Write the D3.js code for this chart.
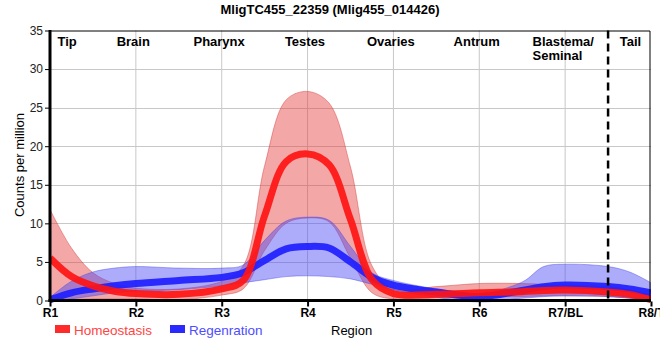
<!DOCTYPE html>
<html>
<head>
    <style>
        body { margin: 0; background: #fff; }
        svg { font-family: "Liberation Sans", Arial, sans-serif; }
    </style>
    <script src="https://d3js.org/d3.v7.min.js"></script>
</head>
<body>
    <div id="chart"></div>
    <script>
        const width = 660, height = 360;

        // positions along the body axis (1 = R1 ... 8 = R8/T)
        const pos = [1, 1.25, 1.5, 1.75, 2, 2.5, 3, 3.25, 3.5, 3.75, 4, 4.25, 4.5, 4.75, 5, 5.5, 6, 6.5, 6.75, 7, 7.5, 7.75, 8];

        const homMean = [5.5, 3.1, 1.9, 1.2, 0.9, 0.8, 1.5, 2.6, 11, 18, 19, 17.6, 10.5, 2.7, 0.9, 0.8, 1.0, 1.15, 1.3, 1.35, 1.1, 0.8, 0.1];
        const homHi   = [11.8, 6.8, 3.6, 2.2, 1.6, 1.5, 2.5, 4.5, 17.5, 26, 27.1, 25.6, 17.3, 4.5, 1.5, 1.8, 2.2, 2.2, 2.1, 2.0, 1.8, 1.4, 0.7];
        const homLo   = [0, 0.1, 0.2, 0.2, 0.2, 0.1, 0.7, 1.5, 6.5, 10, 10.7, 10.2, 5.5, 1.0, 0.2, 0.3, 0.5, 0.5, 0.6, 0.6, 0.5, 0.3, 0];

        const regMean = [0.1, 1.0, 1.5, 1.9, 2.2, 2.6, 3.0, 3.6, 5.2, 6.7, 7.0, 6.8, 5.0, 3.0, 2.0, 1.1, 0.5, 1.3, 1.8, 2.0, 1.8, 1.5, 1.0];
        const regHi   = [0.4, 2.5, 3.7, 4.2, 4.4, 4.2, 4.2, 4.6, 7.8, 10.3, 10.8, 10.4, 7.0, 3.6, 2.6, 1.5, 0.9, 2.4, 4.4, 4.7, 4.4, 3.7, 2.3];
        const regLo   = [-0.2, 0.2, 0.6, 1.0, 1.2, 1.4, 1.9, 2.3, 2.7, 3.1, 3.2, 3.1, 2.8, 2.1, 1.4, 0.4, -0.2, 0.3, 0.5, 0.6, 0.5, 0.3, 0];

        const tickLabels = ["R1", "R2", "R3", "R4", "R5", "R6", "R7/BL", "R8/T"];
        const yTicks = [0, 5, 10, 15, 20, 25, 30, 35];
        const regionNames = ["Tip", "Brain", "Pharynx", "Testes", "Ovaries", "Antrum", "Blastema/|Seminal", "Tail"];
        const regionPos = [1.2, 1.97, 2.97, 3.97, 4.97, 5.97, 6.62, 7.76];

        const x = d3.scaleLinear().domain([1, 8]).range([50, 651]);
        const y = d3.scaleLinear().domain([0, 35]).range([300.5, 30.5]);

        const svg = d3.select("#chart").append("svg")
            .attr("width", width)
            .attr("height", height);

        svg.append("clipPath").attr("id", "clip")
            .append("rect").attr("x", 50).attr("y", 30).attr("width", 601).attr("height", 274);

        // grid
        svg.append("g").selectAll("line")
            .data(d3.range(2, 8))
            .enter().append("line")
            .attr("x1", d => x(d)).attr("x2", d => x(d))
            .attr("y1", y(35)).attr("y2", y(0))
            .attr("stroke", "#c8c8c8").attr("stroke-width", 1);
        svg.append("g").selectAll("line")
            .data(yTicks.slice(1, -1))
            .enter().append("line")
            .attr("x1", x(1)).attr("x2", x(8))
            .attr("y1", d => Math.round(y(d)) + 0.5).attr("y2", d => Math.round(y(d)) + 0.5)
            .attr("stroke", "#c8c8c8").attr("stroke-width", 1);

        const idx = d3.range(pos.length);
        const curve = d3.curveCatmullRom.alpha(0.5);
        const band = (hi, lo) => d3.area().curve(curve)
            .x(i => x(pos[i])).y0(i => y(lo[i])).y1(i => y(hi[i]))(idx);
        const line = vals => d3.line().curve(curve)
            .x(i => x(pos[i])).y(i => y(vals[i]))(idx);

        const plot = svg.append("g").attr("clip-path", "url(#clip)");

        plot.append("path").attr("d", band(homHi, homLo))
            .attr("fill", "rgba(228,60,60,0.45)")
            .attr("stroke", "rgba(210,40,40,0.4)").attr("stroke-width", 1);
        plot.append("path").attr("d", band(regHi, regLo))
            .attr("fill", "rgba(70,70,245,0.45)")
            .attr("stroke", "rgba(60,60,230,0.4)").attr("stroke-width", 1);
        plot.append("path").attr("d", line(regMean))
            .attr("fill", "none").attr("stroke", "rgba(30,30,255,0.92)").attr("stroke-width", 7);
        plot.append("path").attr("d", line(homMean))
            .attr("fill", "none").attr("stroke", "rgba(255,20,20,0.92)").attr("stroke-width", 7);

        // dashed tail boundary
        svg.append("line")
            .attr("x1", x(7.5)).attr("x2", x(7.5))
            .attr("y1", y(35)).attr("y2", y(0))
            .attr("stroke", "#000").attr("stroke-width", 2.5)
            .attr("stroke-dasharray", "8,5");

        // frame
        svg.append("line").attr("x1", x(1)).attr("x2", x(8) - 1)
            .attr("y1", 31).attr("y2", 31).attr("stroke", "#000").attr("stroke-width", 1);
        svg.append("line").attr("x1", x(8) - 1).attr("x2", x(8) - 1)
            .attr("y1", 31).attr("y2", y(0)).attr("stroke", "#000").attr("stroke-width", 1);
        svg.append("line").attr("x1", x(1)).attr("x2", x(1))
            .attr("y1", 30).attr("y2", y(0) + 1.5).attr("stroke", "#000").attr("stroke-width", 3);
        svg.append("line").attr("x1", x(1) - 1.5).attr("x2", x(8))
            .attr("y1", y(0)).attr("y2", y(0)).attr("stroke", "#000").attr("stroke-width", 3);

        // y axis
        const yAxis = svg.append("g")
            .attr("transform", `translate(${x(1) - 1},0)`)
            .call(d3.axisLeft(y).tickValues(yTicks).tickSize(4).tickPadding(2));
        yAxis.select(".domain").remove();
        yAxis.selectAll("text").attr("font-size", 12).attr("fill", "#222")
            .attr("font-family", "Liberation Sans, Arial, sans-serif");

        // x axis
        const xAxis = svg.append("g")
            .attr("transform", `translate(0,${y(0) + 1})`)
            .call(d3.axisBottom(x).tickValues(d3.range(1, 9)).tickSize(5).tickPadding(2)
                .tickFormat((d, i) => tickLabels[i]));
        xAxis.select(".domain").remove();
        xAxis.selectAll("line").attr("stroke-width", 2);
        xAxis.selectAll("text").attr("font-size", 12).attr("font-weight", "bold").attr("fill", "#000")
            .attr("font-family", "Liberation Sans, Arial, sans-serif");

        // region names
        regionNames.forEach((name, i) => {
            const parts = name.split("|");
            const t = svg.append("text")
                .attr("x", x(regionPos[i]))
                .attr("y", 46)
                .attr("text-anchor", parts.length > 1 ? "start" : "middle")
                .attr("font-size", 13).attr("font-weight", "bold");
            parts.forEach((p, j) => {
                t.append("tspan").attr("x", x(regionPos[i])).attr("dy", j === 0 ? 0 : 14).text(p);
            });
        });

        // title
        svg.append("text").attr("x", 330).attr("y", 14)
            .attr("text-anchor", "middle").attr("font-size", 13).attr("font-weight", "bold")
            .text("MligTC455_22359 (Mlig455_014426)");

        // y label
        svg.append("text")
            .attr("transform", "translate(24,165) rotate(-90)")
            .attr("text-anchor", "middle").attr("font-size", 13)
            .text("Counts per million");

        // x label
        svg.append("text").attr("x", 331).attr("y", 335)
            .attr("font-size", 13).text("Region");

        // legend
        const legend = [
            { name: "Homeostasis", color: "#ff2a2a", text: "#ff4444", x: 55 },
            { name: "Regenration", color: "#2a2aff", text: "#4d4dff", x: 170 }
        ];
        legend.forEach(l => {
            svg.append("rect").attr("x", l.x).attr("y", 325).attr("width", 15).attr("height", 8)
                .attr("fill", l.color);
            svg.append("text").attr("x", l.x + 19).attr("y", 335)
                .attr("font-size", 13.5).attr("fill", l.text).text(l.name);
        });
    </script>
</body>
</html>
